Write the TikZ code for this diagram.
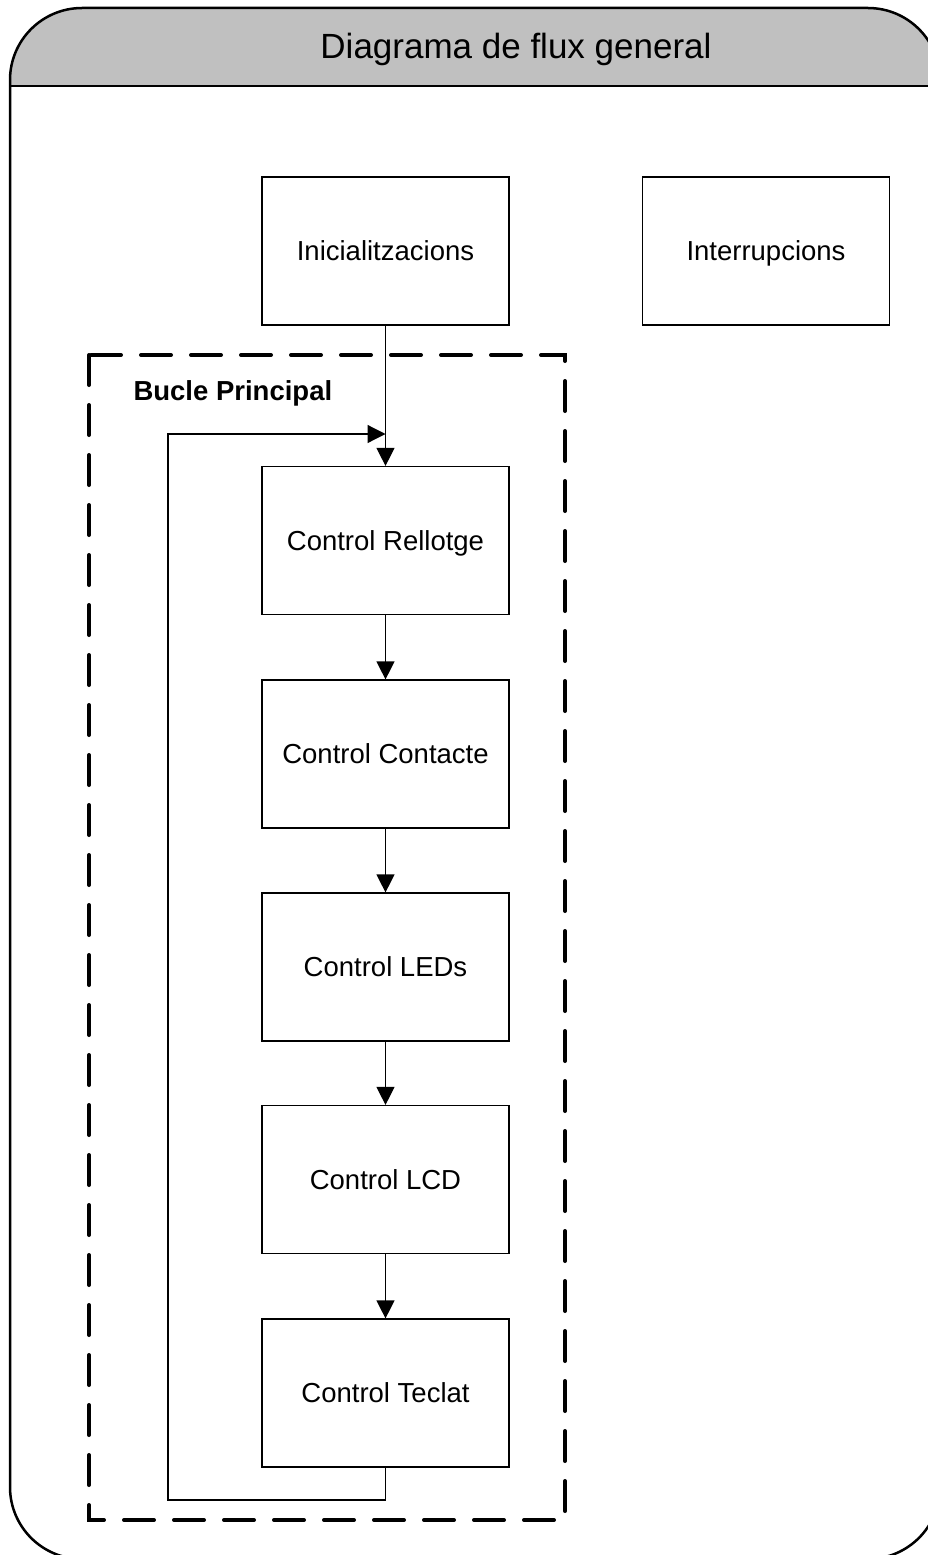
\documentclass[tikz,border=0pt]{standalone}
\usepackage{fontspec}
\setmainfont{Liberation Sans}
\usetikzlibrary{arrows.meta}
\definecolor{headgray}{RGB}{192,192,192}

\begin{document}
\begin{tikzpicture}[x=1pt, y=-1pt,
  stepbox/.style={draw, line width=1.2pt, minimum width=247pt, minimum height=148pt,
    inner sep=0pt, text height=19pt, text depth=0pt, font=\fontsize{27.5}{32}\selectfont},
  flow/.style={line width=1.2pt, -{Triangle[length=18pt, width=18pt]}}]

\useasboundingbox (0,0) rectangle (928,1555);
\clip (0,0) rectangle (928,1555);

% Outer frame with grey title band
\begin{scope}
  \clip[rounded corners=72pt] (10,8) rectangle (940,1559);
  \fill[headgray] (10,8) rectangle (940,86);
\end{scope}
\draw[line width=2.5pt] (10,86) -- (940,86);
\draw[line width=2.5pt, rounded corners=72pt] (10,8) rectangle (940,1559);
\node[font=\fontsize{35}{40}\selectfont] (title) at (516,49) {Diagrama de flux general};

% Main loop frame
\draw[line width=4pt, dash pattern=on 30pt off 20pt, line cap=round] (89,355) rectangle (565,1520);
\node[anchor=west, font=\bfseries\fontsize{27.5}{32}\selectfont] (loopname) at (130,393) {Bucle Principal};

% Blocks
\node[stepbox] (inic) at (385.5,251) {Inicialitzacions};
\node[stepbox] (irq) at (766,251) {Interrupcions};
\node[stepbox] (clock) at (385.5,540.5) {Control Rellotge};
\node[stepbox] (contact) at (385.5,754) {Control Contacte};
\node[stepbox] (leds) at (385.5,967) {Control LEDs};
\node[stepbox] (lcd) at (385.5,1179.5) {Control LCD};
\node[stepbox] (keys) at (385.5,1393) {Control Teclat};

% Arrows
\coordinate (join) at (385.5,434);
\coordinate (back) at (168,1500);
\draw[flow] (inic) -- (clock);
\foreach \a/\b in {clock/contact, contact/leds, leds/lcd, lcd/keys}
  \draw[flow] (\a) -- (\b);
\draw[flow] (keys.south) |- (back) |- (join);

\end{tikzpicture}
\end{document}
